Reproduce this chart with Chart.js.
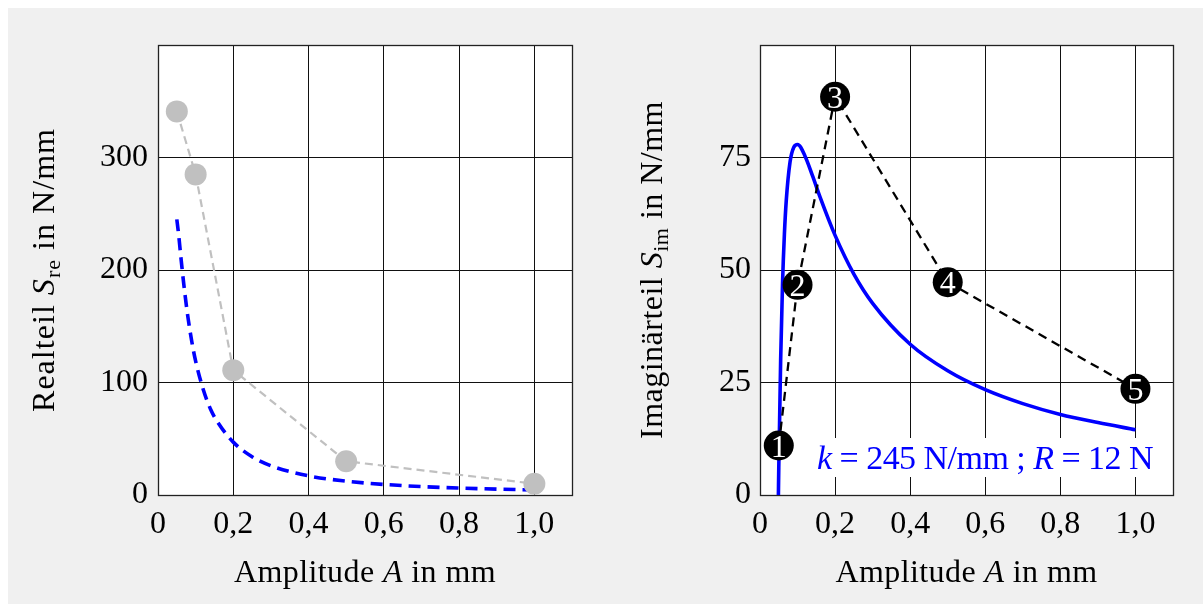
<!DOCTYPE html>
<html><head><meta charset="utf-8">
<script src="https://cdn.jsdelivr.net/npm/chart.js@4/dist/chart.umd.min.js"></script>
<style>
html,body{margin:0;padding:0;background:#fff;width:1203px;height:604px;overflow:hidden;}
#bg{position:absolute;left:8px;top:8px;width:1195px;height:596px;background:#f0f0f0;}
canvas{position:absolute;top:0;}
#c1{left:0}
#c2{left:601px}
</style></head><body>
<div id="bg"></div>
<canvas id="c1" width="601" height="604"></canvas>
<canvas id="c2" width="602" height="604"></canvas>
<script>
// ---- data ----
const ampMeasured = [0.05, 0.1, 0.2, 0.5, 1.0];
const sReMeasured = [341, 285, 111, 30, 10];
const sImMeasured = [11, 46.7, 88.5, 47.3, 23.6];
const pointLabels = ['1', '2', '3', '4', '5'];

const ampModelRe = [0.05, 0.055, 0.06, 0.07, 0.08, 0.09, 0.1, 0.12, 0.14, 0.16, 0.2, 0.25, 0.3, 0.4, 0.5, 0.6, 0.7, 0.8, 0.9, 1.0];
const sReModel   = [245, 231, 214, 183, 157, 136, 119, 94, 76, 64, 47, 34, 26, 17, 12.3, 9.4, 7.5, 6.2, 5.2, 4.5];

const ampModelIm = [0.049, 0.05, 0.055, 0.06, 0.065, 0.07, 0.08, 0.09, 0.1, 0.12, 0.14, 0.16, 0.2, 0.25, 0.3, 0.4, 0.5, 0.6, 0.7, 0.8, 0.9, 1.0];
const sImModel   = [0, 6, 30, 47, 58, 65.5, 74, 77.3, 77.9, 75.3, 70.9, 66.2, 57.7, 49.1, 42.6, 33.5, 27.6, 23.4, 20.3, 17.9, 16.1, 14.5];

const xTicks = [0, 0.2, 0.4, 0.6, 0.8, 1.0];
const yTicksRe = [0, 100, 200, 300];
const yTicksIm = [0, 25, 50, 75];

const FAM = '"Liberation Serif", "Times New Roman", serif';
const pts = (xs, ys) => xs.map((x, i) => ({x: x, y: ys[i]}));

function drawRich(ctx, parts, size, x, y, target, color) {
  ctx.save();
  ctx.fillStyle = color;
  ctx.textBaseline = 'alphabetic';
  ctx.textAlign = 'left';
  const fontOf = p => (p[1] ? 'italic ' : '') + Math.round(p[2] ? size * 0.68 : size) + 'px ' + FAM;
  let w = 0, n = 0;
  ctx.letterSpacing = '0px';
  const widths = parts.map(p => { ctx.font = fontOf(p); const m = ctx.measureText(p[0]).width; w += m; n += p[0].length; return m; });
  let ls = target ? (target - w) / n : 0;
  ls = Math.max(-1, Math.min(3, ls));
  const total = w + ls * n;
  let cx = x - total / 2;
  parts.forEach((p, i) => {
    ctx.font = fontOf(p);
    ctx.letterSpacing = ls + 'px';
    ctx.fillText(p[0], cx, y + (p[2] ? size * 0.2 : 0));
    cx += widths[i] + ls * p[0].length;
  });
  ctx.restore();
}

function makeChart(canvas, opt) {
  const plugin = {
    id: 'decor',
    beforeDraw(chart) {
      const a = chart.chartArea, c = chart.ctx;
      c.save(); c.fillStyle = '#ffffff';
      c.fillRect(a.left, a.top, a.right - a.left, a.bottom - a.top);
      c.restore();
    },
    beforeDatasetsDraw(chart) {
      const a = chart.chartArea, c = chart.ctx;
      c.save();
      c.strokeStyle = '#222'; c.lineWidth = 1.3;
      c.strokeRect(Math.round(a.left) + 0.5, Math.round(a.top) + 0.5, Math.round(a.right - a.left), Math.round(a.bottom - a.top));
      c.restore();
      if (opt.note) opt.note(chart);
    },
    afterDraw(chart) {
      const a = chart.chartArea, c = chart.ctx;
      drawRich(c, [['Amplitude ', false, false], ['A', true, false], [' in mm', false, false]], 32, (a.left + a.right) / 2, 582, 262, '#000');
      c.save();
      c.translate(opt.yTitleX, (a.top + a.bottom) / 2);
      c.rotate(-Math.PI / 2);
      drawRich(c, opt.yTitle, 32, 0, 0, opt.yTitleLen, '#000');
      c.restore();
      if (opt.after) opt.after(chart);
    }
  };
  return new Chart(canvas, {
    type: 'scatter',
    data: { datasets: opt.datasets },
    options: {
      responsive: false,
      maintainAspectRatio: false,
      animation: false,
      devicePixelRatio: 1,
      layout: { padding: { left: 0, right: opt.padRight, top: 45, bottom: 0 } },
      plugins: { legend: { display: false }, tooltip: { enabled: false } },
      scales: {
        x: {
          type: 'linear', min: 0, max: 1.1,
          afterFit: s => { s.height = 109; },
          afterBuildTicks: s => { s.ticks = xTicks.map(v => ({value: v})); },
          border: { display: false },
          grid: { color: '#111', lineWidth: 1, drawTicks: false },
          ticks: {
            padding: 10, color: '#000', maxRotation: 0, autoSkip: false,
            font: { family: FAM, size: 32 },
            callback: v => v === 0 ? '0' : v.toFixed(1).replace('.', ',')
          }
        },
        y: {
          type: 'linear', min: 0, max: opt.yMax,
          afterFit: s => { s.width = opt.yWidth; },
          afterBuildTicks: s => { s.ticks = opt.yTicks.map(v => ({value: v})); },
          border: { display: false },
          grid: { color: '#111', lineWidth: 1, drawTicks: false },
          ticks: {
            padding: opt.yPad, color: '#000', autoSkip: false,
            font: { family: FAM, size: 32 },
            callback: v => String(v)
          }
        }
      }
    },
    plugins: [plugin]
  });
}

makeChart(document.getElementById('c1'), {
  padRight: 29, yWidth: 158, yPad: 10, yMax: 400, yTicks: yTicksRe,
  yTitleX: 54, yTitleLen: 284,
  yTitle: [['Realteil ', false, false], ['S', true, false], ['re', false, true], [' in N/mm', false, false]],
  datasets: [
    {
      data: pts(ampMeasured, sReMeasured), showLine: true,
      borderColor: '#c0c0c0', borderWidth: 2.2, borderDash: [8, 5],
      pointRadius: 11, pointBackgroundColor: '#c0c0c0', pointBorderWidth: 0,
      clip: false
    },
    {
      data: pts(ampModelRe, sReModel), showLine: true,
      borderColor: '#0000ff', borderWidth: 3.6, borderDash: [12, 7],
      pointRadius: 0, cubicInterpolationMode: 'monotone'
    }
  ]
});

makeChart(document.getElementById('c2'), {
  padRight: 30, yWidth: 159, yPad: 9, yMax: 100, yTicks: yTicksIm,
  yTitleX: 61, yTitleLen: 338,
  yTitle: [['Imaginärteil ', false, false], ['S', true, false], ['im', false, true], [' in N/mm', false, false]],
  datasets: [
    {
      data: pts(ampMeasured, sImMeasured), showLine: true,
      borderColor: '#000', borderWidth: 2.3, borderDash: [9, 6],
      pointRadius: 15, pointBackgroundColor: '#000', pointBorderWidth: 0,
      clip: false
    },
    {
      data: pts(ampModelIm, sImModel), showLine: true,
      borderColor: '#0000ff', borderWidth: 3.6,
      pointRadius: 0, cubicInterpolationMode: 'monotone'
    }
  ],
  note(chart) {
    const c = chart.ctx;
    c.save();
    c.fillStyle = '#fff';
    c.fillRect(815 - 601, 438, 340, 39);
    c.restore();
    drawRich(c, [['k', true, false], [' = 245 N/mm ; ', false, false], ['R', true, false], [' = 12 N', false, false]], 34, (817 + 1153) / 2 - 601, 469, 336, '#0000ff');
  },
  after(chart) {
    const meta = chart.getDatasetMeta(0), c = chart.ctx;
    c.save();
    c.fillStyle = '#fff';
    c.font = '32px ' + FAM;
    c.textAlign = 'center';
    c.textBaseline = 'alphabetic';
    meta.data.forEach((el, i) => { c.fillText(pointLabels[i], el.x, el.y + 11); });
    c.restore();
  }
});
</script>
</body></html>
